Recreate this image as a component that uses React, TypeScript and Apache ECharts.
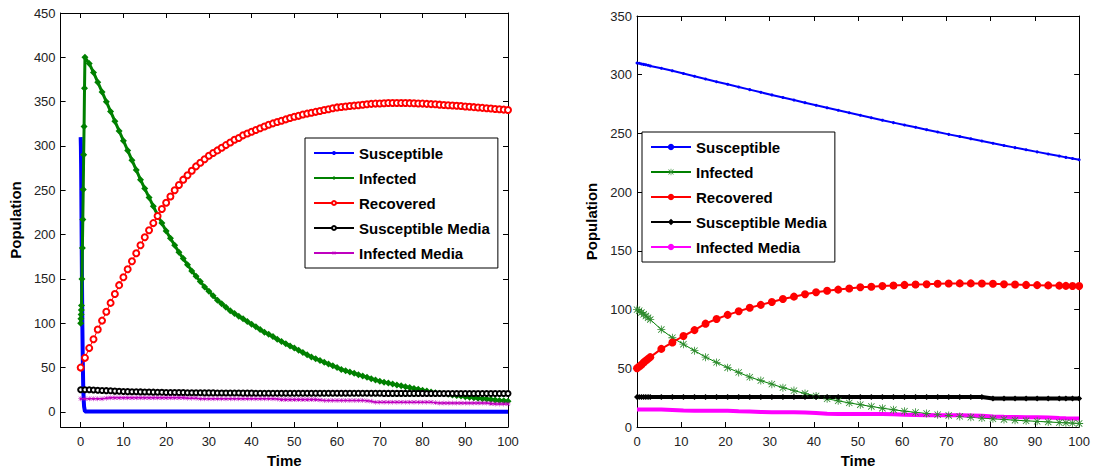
import React, { useEffect, useRef } from "react";
import * as echarts from "echarts";

// ---------- tick labels ----------
const xTicks = [0, 10, 20, 30, 40, 50, 60, 70, 80, 90, 100];
const yTicksLeft = [0, 50, 100, 150, 200, 250, 300, 350, 400, 450];
const yTicksRight = [0, 50, 100, 150, 200, 250, 300, 350];

const seriesNames = ["Susceptible", "Infected", "Recovered", "Susceptible Media", "Infected Media"];

// ---------- left panel data ----------
const tSusceptibleLeft = [0, 0.05, 0.1, 0.15, 0.2, 0.3, 0.4, 0.5, 0.6, 0.7, 0.8, 1, 100];
const susceptibleLeft = [310, 300, 280, 250, 215, 150, 95, 55, 28, 14, 6, 0.5, 0.3];

const tInfectedLeftEarly = [0, 0.05, 0.1, 0.15, 0.2, 0.3, 0.4, 0.5, 0.6, 0.7, 0.8, 0.9];
const infectedLeftEarly = [100, 105, 110, 115, 120, 150, 185, 217, 251, 290, 322, 365];

const tLeft = Array.from({ length: 101 }, (_, i) => i);

// t = 1 .. 100
const infectedLeft = [
  400, 393, 383, 372, 361, 350, 339, 328, 317, 306,
  295, 284, 273, 262, 252, 242, 232, 222, 213, 204,
  196, 188, 180, 173, 166, 159, 153, 147, 141, 136,
  131, 126, 122, 118, 114, 111, 108, 105, 102, 99,
  96, 93, 90, 87.5, 85, 82, 79.5, 77, 74.5, 72,
  69.5, 67, 64.5, 62, 60, 58, 56, 54, 52, 50,
  48, 46.5, 45, 43.5, 42, 40.5, 39, 37.5, 36, 34.5,
  33.5, 32.5, 31.5, 30.5, 29.5, 28.5, 27.5, 26.5, 25.5, 24.5,
  23.5, 22.5, 21.5, 21, 20.5, 20, 19, 18.5, 18, 17,
  16.5, 16, 15.5, 15, 14.5, 14, 13.5, 13, 12.5, 12,
];

// t = 0 .. 100
const recoveredLeft = [
  50, 61, 72, 82, 93, 103, 113, 123, 133, 143, 152,
  161, 170, 179, 188, 197, 205, 213, 221, 229, 236,
  243, 250, 256, 262, 267, 272, 277, 281, 285, 289,
  292, 295, 298, 301, 304, 307, 309, 312, 314, 316,
  318, 320, 322, 324, 325.5, 327, 328.5, 330, 331.5, 333,
  334, 335.5, 336.5, 337.5, 338.5, 339.5, 340.5, 341.5, 342.5, 343.5,
  344, 344.5, 345, 345.5, 346, 346.5, 347, 347.5, 347.8, 348,
  348.2, 348.4, 348.5, 348.5, 348.5, 348.4, 348.3, 348.2, 348, 347.8,
  347.5, 347.2, 347, 346.6, 346.3, 346, 345.6, 345.3, 345, 344.6,
  344.2, 343.8, 343.4, 343, 342.6, 342.2, 341.8, 341.4, 341, 340.6,
];

const susMediaLeft = [
  25, 25, 25, 24.8, 24.5, 24.2, 24, 23.8, 23.5, 23.3, 23,
  22.9, 22.8, 22.7, 22.6, 22.5, 22.4, 22.3, 22.2, 22.1, 22,
  21.9, 21.9, 21.8, 21.8, 21.7, 21.7, 21.6, 21.6, 21.5, 21.5,
  21.5, 21.4, 21.4, 21.4, 21.3, 21.3, 21.3, 21.2, 21.2, 21.2,
  21.1, 21.1, 21.1, 21.1, 21.1, 21.1, 21.1, 21.1, 21.1, 21.1,
  21, 21, 21, 21, 21, 21, 21, 21, 21, 21,
  21, 21, 21, 21, 21, 21, 21, 21, 21, 21,
  20.9, 20.9, 20.9, 20.9, 20.9, 20.9, 20.9, 20.9, 20.9, 20.9,
  20.8, 20.8, 20.8, 20.8, 20.8, 20.8, 20.8, 20.8, 20.8, 20.8,
  20.7, 20.7, 20.7, 20.7, 20.7, 20.7, 20.7, 20.7, 20.7, 20.7,
];

const infMediaLeft = [
  15, 15, 15, 15, 15, 15, 15.5, 16, 16, 16, 16,
  16, 16, 16, 16, 16, 16, 16, 16, 16, 16,
  16, 16, 16, 16, 15.5, 15.5, 15.5, 15, 15, 15,
  15, 15, 15, 15, 15, 15, 15, 15, 15, 15,
  15, 15, 15, 15, 15, 14.5, 14, 14, 14, 14,
  14, 14, 14, 14, 14, 13.5, 13, 13, 13, 13,
  13, 13, 13, 13, 13, 13, 12.5, 12, 11, 11,
  11, 11, 11, 11, 11, 11, 11, 11, 11, 11,
  11, 11, 10.5, 10, 10, 10, 10, 10, 10, 10,
  10, 10, 10, 10, 10, 9.5, 9, 9, 9, 9,
];

// ---------- right panel data ----------
const tRight = [
  0, 0.5, 1, 1.5, 2, 2.5, 3,
  5.5, 8, 10.5, 13, 15.5, 18, 20.5, 23, 25.5, 28,
  30.5, 33, 35.5, 38, 40.5, 43, 45.5, 48, 50.5, 53,
  55.5, 58, 60.5, 63, 65.5, 68, 70.5, 73, 75.5, 78,
  80.5, 83, 85.5, 88, 90.5, 93, 95.5,
  97, 98.5, 100,
];
const susceptibleRight = [
  310, 309.7, 309.2, 308.8, 308.4, 308, 307.5,
  305.5, 303.3, 301, 298.7, 296.4, 294, 291.8, 289.6, 287.3, 285,
  282.8, 280.6, 278.4, 276.2, 274, 271.8, 269.7, 267.6, 265.5, 263.4,
  261.3, 259.2, 257.2, 255.2, 253.2, 251.2, 249.2, 247.3, 245.4, 243.5,
  241.6, 239.7, 237.9, 236.1, 234.3, 232.5, 230.7,
  229.6, 228.6, 227.6,
];
const infectedRight = [
  100, 99, 97.5, 96, 94.5, 93, 91.5,
  83, 76, 70.5, 65, 59.5, 55, 50.5, 46.5, 42.5, 39.5,
  36.5, 33.5, 31, 28.5, 26.5, 24, 22.3, 20.5, 19, 17.5,
  16, 14.7, 13.5, 12.5, 11.5, 10.5, 9.8, 9, 8.3, 7.6,
  7, 6.4, 5.8, 5.3, 4.8, 4.3, 3.8,
  3.6, 3.3, 3,
];
const recoveredRight = [
  50, 51.5, 53, 55, 56.5, 58, 59.5,
  66.5, 72, 77.5, 82.5, 88, 92, 95.5, 98.5, 101.5, 104,
  106.5, 109, 111, 113, 114.8, 116, 117, 118, 119, 119.5,
  120, 120.5, 121, 121.3, 121.6, 122, 122.2, 122.3, 122.3, 122.2,
  122, 121.5, 121.3, 121, 120.8, 120.6, 120.4,
  120.2, 120.1, 120,
];
const susMediaRight = [
  25.5, 25.5, 25.5, 25.5, 25.5, 25.5, 25.5,
  25.5, 25.5, 25.5, 25.5, 25.5, 25.5, 25.5, 25.5, 25.5, 25.5,
  25.5, 25.5, 25.5, 25.5, 25.5, 25.5, 25.5, 25.5, 25.5, 25.5,
  25.5, 25.5, 25.5, 25.5, 25.5, 25.5, 25.5, 25.5, 25.5, 25.5,
  24.2, 24.2, 24.2, 24.2, 24.2, 24.2, 24.2,
  24.2, 24.2, 24.2,
];
const infMediaRight = [
  15, 15, 15, 15, 15, 15, 15,
  15, 14.5, 14, 13.8, 13.8, 13.8, 13.8, 13.5, 13.3, 12.8,
  12.5, 12.5, 12.5, 12.3, 12, 11.3, 11, 11, 11, 11,
  11, 10.8, 10.5, 10.2, 10, 10, 10, 10, 9.8, 9.5,
  9, 8.7, 8.5, 8.3, 8.2, 8, 7.6,
  7.4, 7.3, 7.2,
];

// ---------- helpers ----------
const FONT = "Arial, 'Liberation Sans', sans-serif";
const ASTERISK =
  "path://M4.5 0L5.5 0L5.5 10L4.5 10ZM0 4.5L10 4.5L10 5.5L0 5.5ZM0.7 1.4L1.4 0.7L9.3 8.6L8.6 9.3ZM8.6 0.7L9.3 1.4L1.4 9.3L0.7 8.6Z";

const pairs = (t: number[], v: number[]) => v.map((y, i) => [t[i], y]);

function axes(xMin: number, yMin: number, yMax: number, yTicks: number[]) {
  const line = { show: true, onZero: false, lineStyle: { color: "#000", width: 1 } };
  const tick = (vals: number[]) => ({
    show: true,
    inside: true,
    length: 5,
    customValues: vals,
    lineStyle: { color: "#000", width: 1 },
  });
  const label = (vals: number[], margin: number) => ({
    show: true,
    customValues: vals,
    color: "#222",
    fontSize: 13,
    fontFamily: FONT,
    margin,
  });
  const nameStyle = { fontWeight: "bold", fontSize: 15, color: "#000", fontFamily: FONT };
  return {
    xAxis: [
      {
        type: "value", min: xMin, max: 100, position: "bottom",
        axisLine: line, axisTick: tick(xTicks), axisLabel: label(xTicks, 8),
        splitLine: { show: false },
        name: "Time", nameLocation: "middle", nameGap: 26, nameTextStyle: nameStyle,
      },
      {
        type: "value", min: xMin, max: 100, position: "top",
        axisLine: line, axisTick: tick(xTicks), axisLabel: { show: false },
        splitLine: { show: false },
      },
    ],
    yAxis: [
      {
        type: "value", min: yMin, max: yMax, position: "left",
        axisLine: line, axisTick: tick(yTicks), axisLabel: label(yTicks, 5),
        splitLine: { show: false },
        name: "Population", nameLocation: "middle", nameGap: 34, nameTextStyle: nameStyle,
      },
      {
        type: "value", min: yMin, max: yMax, position: "right",
        axisLine: line, axisTick: tick(yTicks), axisLabel: { show: false },
        splitLine: { show: false },
      },
    ],
  };
}

function legend(left: number, top: number, iconHeight: number) {
  return {
    orient: "vertical",
    left,
    top,
    padding: [7, 8, 7, 8],
    itemWidth: 40,
    itemHeight: iconHeight,
    itemGap: 9,
    backgroundColor: "#fff",
    borderColor: "#000",
    borderWidth: 1,
    borderRadius: 0,
    selectedMode: false,
    textStyle: { fontSize: 15, fontWeight: "bold", color: "#000", fontFamily: FONT, lineHeight: 16 },
    data: seriesNames,
  };
}

const leftOption = {
  animation: false,
  grid: { left: 59, top: 13, width: 449, height: 415, containLabel: false },
  ...axes(-4.7, -17, 450, yTicksLeft),
  legend: legend(305, 138, 5),
  series: [
    {
      name: seriesNames[0], type: "line",
      data: pairs(tSusceptibleLeft, susceptibleLeft),
      symbol: "none", lineStyle: { color: "#0000ff", width: 4 }, itemStyle: { color: "#0000ff" },
    },
    {
      name: seriesNames[1], type: "line",
      data: [...pairs(tInfectedLeftEarly, infectedLeftEarly), ...pairs(tLeft.slice(1), infectedLeft)],
      symbol: "diamond", symbolSize: 7, showAllSymbol: true,
      lineStyle: { color: "#008000", width: 3 }, itemStyle: { color: "#008000" },
    },
    {
      name: seriesNames[2], type: "line",
      data: pairs(tLeft, recoveredLeft),
      symbol: "emptyCircle", symbolSize: 6, showAllSymbol: true,
      lineStyle: { color: "#ff0000", width: 1 }, itemStyle: { color: "#ff0000", borderWidth: 1.2 },
    },
    {
      name: seriesNames[3], type: "line",
      data: pairs(tLeft, susMediaLeft),
      symbol: "emptyCircle", symbolSize: 5, showAllSymbol: true,
      lineStyle: { color: "#000000", width: 1 }, itemStyle: { color: "#000000", borderWidth: 1.2 },
    },
    {
      name: seriesNames[4], type: "line",
      data: pairs(tLeft, infMediaLeft),
      symbol: ASTERISK, symbolSize: 5, showAllSymbol: true,
      lineStyle: { color: "#bf00bf", width: 1.5 }, itemStyle: { color: "#bf00bf" },
    },
  ],
};

const rightOption = {
  animation: false,
  grid: { left: 91, top: 16, width: 443, height: 412, containLabel: false },
  ...axes(0, 0, 350, yTicksRight),
  legend: legend(96, 132, 8),
  series: [
    {
      name: seriesNames[0], type: "line",
      data: pairs(tRight, susceptibleRight),
      symbol: "circle", symbolSize: 3, showAllSymbol: true,
      lineStyle: { color: "#0000ff", width: 2 }, itemStyle: { color: "#0000ff" },
    },
    {
      name: seriesNames[1], type: "line",
      data: pairs(tRight, infectedRight),
      symbol: ASTERISK, symbolSize: 8, showAllSymbol: true,
      lineStyle: { color: "#008000", width: 1 }, itemStyle: { color: "#2e8b2e" },
    },
    {
      name: seriesNames[2], type: "line",
      data: pairs(tRight, recoveredRight),
      symbol: "circle", symbolSize: 8, showAllSymbol: true,
      lineStyle: { color: "#ff0000", width: 2 }, itemStyle: { color: "#ff0000" },
    },
    {
      name: seriesNames[3], type: "line",
      data: pairs(tRight, susMediaRight),
      symbol: "diamond", symbolSize: 6, showAllSymbol: true,
      lineStyle: { color: "#000000", width: 4 }, itemStyle: { color: "#000000" },
    },
    {
      name: seriesNames[4], type: "line",
      data: pairs(tRight, infMediaRight),
      symbol: "none",
      lineStyle: { color: "#ff00ff", width: 4 }, itemStyle: { color: "#ff00ff" },
    },
  ],
};

function Panel({ option, left, width }: { option: any; left: number; width: number }) {
  const ref = useRef<HTMLDivElement>(null);
  useEffect(() => {
    if (!ref.current) return;
    const chart = echarts.init(ref.current, null, { renderer: "svg" });
    chart.setOption(option);
    return () => chart.dispose();
  }, [option]);
  return (
    <div
      ref={ref}
      style={{ position: "absolute", left, top: 0, width, height: 473 }}
    />
  );
}

export default function App() {
  return (
    <div
      style={{
        position: "fixed",
        left: 0,
        top: 0,
        width: 1093,
        height: 473,
        background: "#fff",
        overflow: "hidden",
      }}
    >
      <Panel option={leftOption} left={0} width={546} />
      <Panel option={rightOption} left={546} width={547} />
    </div>
  );
}
